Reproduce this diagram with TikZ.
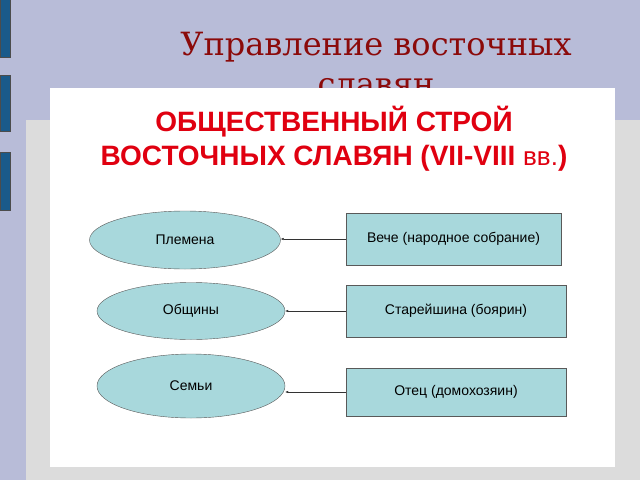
\documentclass[tikz,border=0pt]{standalone}
\usepackage{fontspec}
\setmainfont{Liberation Sans}
\newfontfamily\titlefont{DejaVu Serif}
\usetikzlibrary{shapes.geometric,arrows.meta}
\definecolor{bgl}{HTML}{B8BCD8}
\definecolor{pan}{HTML}{DCDCDC}
\definecolor{barb}{HTML}{1A5A8A}
\definecolor{fillc}{HTML}{A8D8DC}
\definecolor{ttl}{HTML}{8B0A0A}
\definecolor{hdr}{HTML}{E00010}
\tikzset{
 ell/.style={ellipse,draw=gray!70!black,fill=fillc,inner sep=0pt,font=\fontsize{14}{16}\selectfont},
 box/.style={rectangle,draw=gray!70!black,fill=fillc,inner sep=0pt,font=\fontsize{14}{16}\selectfont},
 conn/.style={draw=black!80,-{Latex[length=3pt,width=2.5pt]}},
 bar/.style={fill=barb,draw=black!70}
}
\begin{document}
\begin{tikzpicture}[x=1pt,y=-1pt]
\useasboundingbox (0,0) rectangle (640,480);
\fill[bgl] (0,0) rectangle (640,480);
\fill[pan] (26,120) rectangle (640,480);
\draw[bar] (0,-2) rectangle (10,57);
\draw[bar] (0,75) rectangle (10,131);
\draw[bar] (0,152) rectangle (10,210);
\node[text=ttl,font=\titlefont\fontsize{32}{40}\selectfont,align=center] (t) at (376,64) {Управление восточных\\славян};
\fill[white] (50,88) rectangle (615,467);
\node[text=hdr,font=\bfseries\fontsize{28}{34}\selectfont,align=center] (h) at (334,139) {ОБЩЕСТВЕННЫЙ СТРОЙ\\ВОСТОЧНЫХ СЛАВЯН (VII-VIII {\mdseries\fontsize{26}{34}\selectfont вв.})};
\node[ell,minimum width=191pt,minimum height=58pt] (e1) at (185,240) {Племена};
\node[ell,minimum width=188pt,minimum height=57pt] (e2) at (191,311) {Общины};
\node[ell,minimum width=188pt,minimum height=64pt] (e3) at (191,386) {Семьи};
\node[box,minimum width=215pt,minimum height=52pt] (b1) at (453.5,239) {Вече (народное собрание)};
\node[box,minimum width=220pt,minimum height=52pt] (b2) at (456,311) {Старейшина (боярин)};
\node[box,minimum width=220pt,minimum height=48pt] (b3) at (456,392) {Отец (домохозяин)};
\draw[conn] (b1.west) -- (e1.east |- b1.west);
\draw[conn] (b2.west) -- (e2.east |- b2.west);
\draw[conn] (b3.west) -- (e3.east |- b3.west);
\end{tikzpicture}
\end{document}
